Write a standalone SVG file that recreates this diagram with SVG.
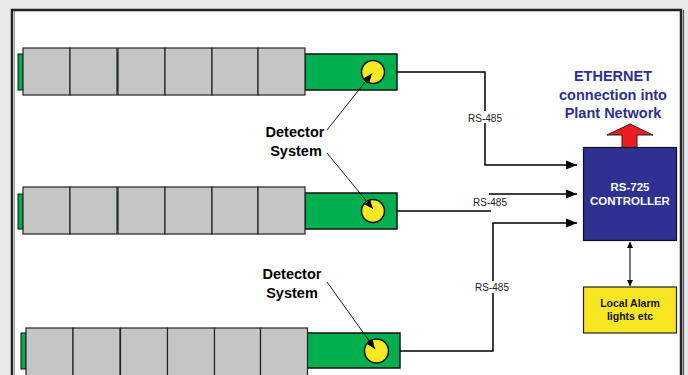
<svg xmlns="http://www.w3.org/2000/svg" width="688" height="375" viewBox="0 0 688 375">
<defs>
<style>
.seg{fill:#c6c5c5;stroke:#222;stroke-width:1.2}
.grn{fill:#00b04f;stroke:#111;stroke-width:1.5}
.cap{fill:#00b04f;stroke:#111;stroke-width:1}
.det{fill:#f8ea22;stroke:#111;stroke-width:1.5}
.wire{fill:none;stroke:#000;stroke-width:1.5}
.lead{fill:none;stroke:#000;stroke-width:0.9}
.lbl{font-family:"Liberation Sans",Arial,sans-serif;font-size:10px;fill:#222;text-anchor:middle}
.dlbl{font-family:"Liberation Sans",Arial,sans-serif;font-size:14.5px;font-weight:bold;fill:#000;text-anchor:middle}
.eth{font-family:"Liberation Sans",Arial,sans-serif;font-size:14.5px;font-weight:bold;fill:#2e3192;text-anchor:middle}
.ctl{font-family:"Liberation Sans",Arial,sans-serif;font-size:11.5px;font-weight:bold;fill:#fff;text-anchor:middle}
.alm{font-family:"Liberation Sans",Arial,sans-serif;font-size:10.5px;font-weight:bold;fill:#111;text-anchor:middle}
</style>
<marker id="ah" viewBox="0 0 10 10" refX="10" refY="5" markerWidth="6" markerHeight="6" orient="auto-start-reverse" markerUnits="userSpaceOnUse">
<path d="M0,0 L10,5 L0,10 z" fill="#000"/>
</marker>
<marker id="ahs" viewBox="0 0 10 10" refX="10" refY="5" markerWidth="9" markerHeight="9" orient="auto" markerUnits="userSpaceOnUse">
<path d="M0,1 L10,5 L0,9 z" fill="#000"/>
</marker>
<marker id="ahb" viewBox="0 0 10 10" refX="10" refY="5" markerWidth="11" markerHeight="11" orient="auto" markerUnits="userSpaceOnUse">
<path d="M0,1 L10,5 L0,9 z" fill="#000"/>
</marker>
</defs>
<rect x="0" y="0" width="688" height="375" fill="#e8e8e8"/>
<rect x="12" y="10" width="669" height="380" fill="#fff" stroke="#222" stroke-width="2.5"/>
<line x1="683.5" y1="10" x2="683.5" y2="375" stroke="#555" stroke-width="1.2"/>
<line x1="14.5" y1="11" x2="14.5" y2="375" stroke="#888" stroke-width="0.8"/>

<g id="tube1">
<rect class="cap" x="18" y="54" width="5" height="36"/>
<rect class="cap" x="116" y="53" width="3" height="38"/>
<rect class="grn" x="305" y="54" width="92" height="36"/>
<rect class="seg" x="23" y="48" width="47" height="47"/>
<rect class="seg" x="70" y="48" width="47" height="47"/>
<rect class="seg" x="118" y="48" width="47" height="47"/>
<rect class="seg" x="165" y="48" width="47" height="47"/>
<rect class="seg" x="212" y="48" width="46" height="47"/>
<rect class="seg" x="258" y="48" width="47" height="47"/>
<circle class="det" cx="373" cy="72" r="11.5"/>
</g>
<g id="tube2">
<rect class="cap" x="18" y="194" width="5" height="35"/>
<rect class="cap" x="116" y="192" width="3" height="38"/>
<rect class="grn" x="305" y="193" width="92" height="36"/>
<rect class="seg" x="23" y="187" width="47" height="47"/>
<rect class="seg" x="70" y="187" width="47" height="47"/>
<rect class="seg" x="118" y="187" width="47" height="47"/>
<rect class="seg" x="165" y="187" width="47" height="47"/>
<rect class="seg" x="212" y="187" width="46" height="47"/>
<rect class="seg" x="258" y="187" width="47" height="47"/>
<circle class="det" cx="373" cy="211" r="11.5"/>
</g>
<g id="tube3">
<rect class="cap" x="21" y="333" width="5" height="36"/>
<rect class="cap" x="119" y="332" width="3" height="38"/>
<rect class="grn" x="307" y="333" width="93" height="35"/>
<rect class="seg" x="26" y="328" width="47" height="50"/>
<rect class="seg" x="73" y="328" width="47" height="50"/>
<rect class="seg" x="120.5" y="328" width="47" height="50"/>
<rect class="seg" x="167.5" y="328" width="47" height="50"/>
<rect class="seg" x="214.5" y="328" width="46" height="50"/>
<rect class="seg" x="260.5" y="328" width="47" height="50"/>
<circle class="det" cx="376.5" cy="351" r="12"/>
</g>

<g id="labels">
<text class="dlbl" x="295" y="137">Detector</text>
<text class="dlbl" x="296" y="156">System</text>
<text class="dlbl" x="292" y="279">Detector</text>
<text class="dlbl" x="292" y="298">System</text>
</g>

<g id="connectors">
<path class="wire" d="M397,72 H485 V165 H577" marker-end="url(#ahb)"/>
<path class="wire" d="M397,211 H491"/>
<path class="wire" d="M489,194 H577" marker-end="url(#ahb)"/>
<path class="wire" d="M400,351 H493 V223 H577" marker-end="url(#ahb)"/>
<line class="lead" x1="327" y1="130" x2="372" y2="73.5" marker-end="url(#ahs)"/>
<line class="lead" x1="327" y1="153" x2="373" y2="209" marker-end="url(#ahs)"/>
<line class="lead" x1="327" y1="282" x2="375" y2="349" marker-end="url(#ahs)"/>
<line x1="630" y1="242" x2="630" y2="286" stroke="#333" stroke-width="1.3" marker-start="url(#ah)" marker-end="url(#ah)"/>
<path d="M622,147.5 V135 H607 L630,124 L653,135 H637 V147.5 Z" fill="#ed1c24" stroke="#222" stroke-width="1"/>
<rect x="469" y="111" width="32" height="12" fill="#fff"/>
<text class="lbl" x="485" y="121.5">RS-485</text>
<text class="lbl" x="490" y="205.5">RS-485</text>
<rect x="476" y="281" width="33" height="12" fill="#fff"/>
<text class="lbl" x="492" y="290.5">RS-485</text>
</g>

<g id="controller">
<rect x="583.5" y="147.5" width="93" height="93" fill="#2e3192" stroke="#111" stroke-width="1.2"/>
<text class="ctl" x="630" y="191">RS-725</text>
<text class="ctl" x="630" y="204.5">CONTROLLER</text>
</g>
<g id="ethernet">
<text class="eth" x="613" y="81">ETHERNET</text>
<text class="eth" x="613" y="99.5">connection into</text>
<text class="eth" x="613" y="118">Plant Network</text>
</g>
<g id="alarm">
<rect x="583.5" y="287" width="93" height="46" fill="#f8e622" stroke="#222" stroke-width="1.2"/>
<text class="alm" x="630" y="307">Local Alarm</text>
<text class="alm" x="630" y="319.5">lights etc</text>
</g>
</svg>
